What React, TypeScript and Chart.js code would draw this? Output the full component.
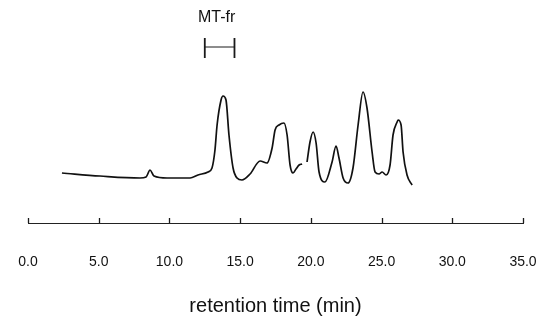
import { useEffect, useRef } from "react";
import { Chart, registerables } from "chart.js";

Chart.register(...registerables);

// Chromatogram trace: retention time (min) vs detector signal (arbitrary units)
const retentionTime = [
  2.4, 5.09, 7.92, 8.35, 8.63, 8.91, 9.83, 11.46, 12.02, 12.73, 13.01, 13.22, 13.37, 13.65, 13.79,
  14.0, 14.21, 14.5, 14.78, 15.13, 15.7, 16.41, 16.9, 17.26, 17.47, 17.75, 18.1, 18.32, 18.53, 18.74,
  18.95, 19.17, 19.38, 19.52, 19.73, 19.94, 20.16, 20.37, 20.58, 21.0, 21.5, 21.78, 21.99, 22.28,
  22.63, 22.98, 23.34, 23.69, 23.97, 24.33, 24.54, 24.82, 25.04, 25.32, 25.6, 25.81, 26.1, 26.17,
  26.38, 26.52, 26.8, 27.16,
];
const signal = [
  17, 14, 12, 13, 20, 14, 12, 12, 15, 18, 22, 40, 65, 90, 94,
  90, 55, 22, 12, 10, 16, 29, 27, 42, 60, 65, 67, 55, 25, 17,
  21, 25, 26, null, 28, 48, 58, 47, 18, 8, 28, 44, 32, 12,
  7, 22, 65, 98, 82, 38, 18, 16, 18, 15, 25, 55, 68, 70,
  65, 38, 15, 5,
];

const tickValues = [0, 5, 10, 15, 20, 25, 30, 35];
const tickLabels = ["0.0", "5.0", "10.0", "15.0", "20.0", "25.0", "30.0", "35.0"];
const axisTitle = "retention time (min)";

const fractionName = "MT-fr";
const fractionStart = 12.5;
const fractionEnd = 14.6;

const FONT = '"Liberation Sans", Arial, sans-serif';

const overlay = {
  id: "overlay",
  afterDraw(chart: any) {
    const { ctx, chartArea } = chart;
    const x = chart.scales.x;
    const y = chart.scales.y;
    ctx.save();
    ctx.strokeStyle = "#1a1a1a";
    ctx.lineWidth = 1.3;
    for (const v of tickValues) {
      const px = Math.round(x.getPixelForValue(v)) + 0.5;
      ctx.beginPath();
      ctx.moveTo(px, chartArea.bottom);
      ctx.lineTo(px, chartArea.bottom - 5);
      ctx.stroke();
    }
    // fraction bracket
    const x1 = x.getPixelForValue(fractionStart);
    const x2 = x.getPixelForValue(fractionEnd);
    const yTop = y.getPixelForValue(152);
    const yBot = y.getPixelForValue(132);
    const yMid = y.getPixelForValue(143);
    ctx.lineWidth = 1.8;
    ctx.beginPath();
    ctx.moveTo(x1, yTop);
    ctx.lineTo(x1, yBot);
    ctx.moveTo(x2, yTop);
    ctx.lineTo(x2, yBot);
    ctx.stroke();
    ctx.lineWidth = 1;
    ctx.beginPath();
    ctx.moveTo(x1, yMid);
    ctx.lineTo(x2, yMid);
    ctx.stroke();
    ctx.fillStyle = "#111";
    ctx.font = `16px ${FONT}`;
    ctx.textAlign = "center";
    ctx.textBaseline = "middle";
    ctx.fillText(fractionName, (x1 + x2) / 2 - 3, y.getPixelForValue(172));
    ctx.restore();
  },
};

export default function App() {
  const ref = useRef<HTMLCanvasElement | null>(null);

  useEffect(() => {
    document.body.style.margin = "0";
    document.body.style.overflow = "hidden";
    const canvas = ref.current;
    if (!canvas) return;
    const points = retentionTime.map((t, i) => ({ x: t, y: signal[i] }));
    const chart = new Chart(canvas, {
      type: "line",
      data: {
        datasets: [
          {
            data: points as any,
            borderColor: "#111",
            borderWidth: 1.7,
            pointRadius: 0,
            cubicInterpolationMode: "monotone",
            spanGaps: false,
          },
        ],
      },
      options: {
        animation: false,
        responsive: false,
        devicePixelRatio: 1,
        layout: { padding: { left: 28, right: 33, top: 0, bottom: 0 } },
        plugins: { legend: { display: false }, tooltip: { enabled: false } },
        scales: {
          x: {
            type: "linear",
            min: 0,
            max: 35,
            afterBuildTicks: (scale: any) => {
              scale.ticks = tickValues.map((v) => ({ value: v }));
            },
            afterFit: (scale: any) => {
              scale.height = 104;
            },
            grid: {
              display: true,
              drawOnChartArea: false,
              drawTicks: true,
              tickLength: 30,
              color: "rgba(0,0,0,0)",
            },
            border: { display: true, color: "#222", width: 1 },
            ticks: {
              padding: 1,
              maxRotation: 0,
              autoSkip: false,
              color: "#111",
              font: { family: FONT, size: 14 },
              callback: (v: any) => {
                const i = tickValues.indexOf(Number(v));
                return i >= 0 ? tickLabels[i] : "";
              },
            },
            title: {
              display: true,
              text: axisTitle,
              color: "#111",
              font: { family: FONT, size: 20 },
              padding: { top: 0, bottom: 9 },
            },
          },
          y: {
            display: false,
            min: -33,
            max: 190,
          },
        },
      },
      plugins: [overlay],
    });
    return () => chart.destroy();
  }, []);

  return (
    <div style={{ width: 556, height: 327, background: "#fff" }}>
      <canvas ref={ref} width={556} height={327} style={{ display: "block" }} />
    </div>
  );
}
